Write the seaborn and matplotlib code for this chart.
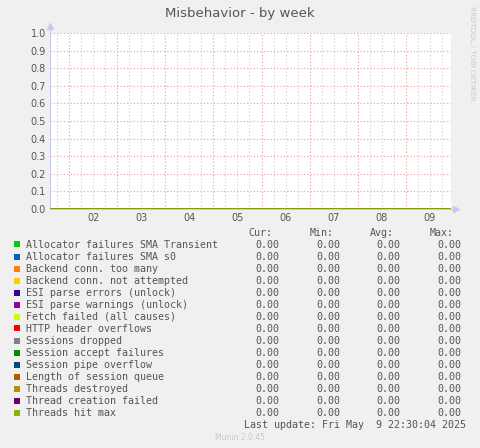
import numpy as np
import pandas as pd
import matplotlib
matplotlib.use("Agg")
import matplotlib.pyplot as plt
import seaborn as sns

# series (Munin varnish misbehavior)
series_names = [
    "Allocator failures SMA Transient",
    "Allocator failures SMA s0",
    "Backend conn. too many",
    "Backend conn. not attempted",
    "ESI parse errors (unlock)",
    "ESI parse warnings (unlock)",
    "Fetch failed (all causes)",
    "HTTP header overflows",
    "Sessions dropped",
    "Session accept failures",
    "Session pipe overflow",
    "Length of session queue",
    "Threads destroyed",
    "Thread creation failed",
    "Threads hit max",
]
series_colors = [
    "#00CC00", "#0066B3", "#FF8000", "#FFCC00", "#330099",
    "#990099", "#CCFF00", "#FF0000", "#808080", "#008F00",
    "#00487D", "#B35A00", "#B38F00", "#6B006B", "#8FB300",
]
cur_vals = [0.00] * 15
min_vals = [0.00] * 15
avg_vals = [0.00] * 15
max_vals = [0.00] * 15

# time in hours since May 1 00:00
sample_hours = [14.5, 24, 48, 72, 96, 120, 144, 168, 192, 214.5]
sample_values = [0, 0, 0, 0, 0, 0, 0, 0, 0, 0]
day_labels = ["02", "03", "04", "05", "06", "07", "08", "09"]
day_noons = [36, 60, 84, 108, 132, 156, 180, 204]
x_start, x_end = 14.5, 214.5
y_ticks = [0.0, 0.1, 0.2, 0.3, 0.4, 0.5, 0.6, 0.7, 0.8, 0.9, 1.0]
last_update = "Last update: Fri May  9 22:30:04 2025"

df = pd.DataFrame(
    [(h, v, n) for n in series_names for h, v in zip(sample_hours, sample_values)],
    columns=["hour", "value", "series"],
)

sns.set_theme(style="white")
plt.rcParams["font.family"] = ["DejaVu Sans"]

W, H = 481, 448
fig = plt.figure(figsize=(W / 100, H / 100), dpi=100, facecolor="#F0F0F0")
ax = fig.add_axes([50 / W, (H - 209) / H, 401 / W, 176 / H])
ax.set_facecolor("white")

# grid
for h in np.arange(18, x_end, 6):
    if h % 24 != 0:
        ax.axvline(h, color="#cfcfcf", lw=0.8, ls=(0, (1, 2)), zorder=1)
for h in np.arange(24, x_end, 24):
    ax.axvline(h, color="#e89a9a", lw=0.8, ls=(0, (1, 2)), zorder=1)
for y in y_ticks[1:]:
    ax.axhline(y, color="#e89a9a", lw=0.8, ls=(0, (1, 2)), zorder=1)

sns.lineplot(data=df, x="hour", y="value", hue="series", palette=series_colors,
             hue_order=series_names, legend=False, lw=1.2, ax=ax, zorder=3)

ax.set_xlim(x_start, x_end)
ax.set_ylim(0, 1.0)
ax.set_xticks(day_noons)
ax.set_xticklabels(day_labels)
ax.set_yticks(y_ticks)
ax.set_yticklabels([f"{v:.1f}" for v in y_ticks])
ax.tick_params(axis="both", length=0, labelsize=7, colors="#555555", pad=3)
ax.set_xlabel("")
ax.set_ylabel("")
for s in ["top", "right"]:
    ax.spines[s].set_visible(False)
for s in ["left", "bottom"]:
    ax.spines[s].set_color("#c8c8f5")
    ax.spines[s].set_linewidth(0.8)
ax.spines["left"].set_bounds(0, 1.03)
ax.spines["bottom"].set_bounds(x_start, x_end + 1)
ax.plot([0], [1.04], marker="^", ms=4, color="#c8c8f5", transform=ax.transAxes, clip_on=False)
ax.plot([1.012], [0], marker=">", ms=4, color="#c8c8f5", transform=ax.transAxes, clip_on=False)

fig.text(240 / W, 1 - 13 / H, "Misbehavior - by week", ha="center", va="center",
         fontsize=9.5, color="#555555")
fig.text(472 / W, 1 - 6 / H, "RRDTOOL / TOBI OETIKER", rotation=270, ha="center", va="top",
         fontsize=5.3, color="#c8c8c8")

# legend block
mono = "DejaVu Sans Mono"
fs = 7.2
txt_col = "#555555"
for x_r, head in [(272, "Cur:"), (334, "Min:"), (394, "Avg:"), (454, "Max:")]:
    fig.text(x_r / W, 1 - 232.5 / H, head, ha="right", va="center", fontsize=fs,
             family=mono, color=txt_col)
for i, name in enumerate(series_names):
    y = 244.5 + 12 * i
    fig.patches.append(plt.Rectangle(((14) / W, 1 - (y + 3) / H), 6 / W, 6 / H,
                                     transform=fig.transFigure, facecolor=series_colors[i],
                                     edgecolor="none"))
    fig.text(26 / W, 1 - y / H, name, ha="left", va="center", fontsize=fs,
             family=mono, color=txt_col)
    for x_r, vals in [(279, cur_vals), (340, min_vals), (400, avg_vals), (461, max_vals)]:
        fig.text(x_r / W, 1 - y / H, f"{vals[i]:.2f}", ha="right", va="center",
                 fontsize=fs, family=mono, color=txt_col)
fig.text(466 / W, 1 - 424.5 / H, last_update, ha="right", va="center", fontsize=fs,
         family=mono, color=txt_col)
fig.text(240 / W, 1 - 437 / H, "Munin 2.0.45", ha="center", va="center", fontsize=5.5,
         color="#c8c8c8")

fig.savefig("out.png", dpi=100, facecolor=fig.get_facecolor())
